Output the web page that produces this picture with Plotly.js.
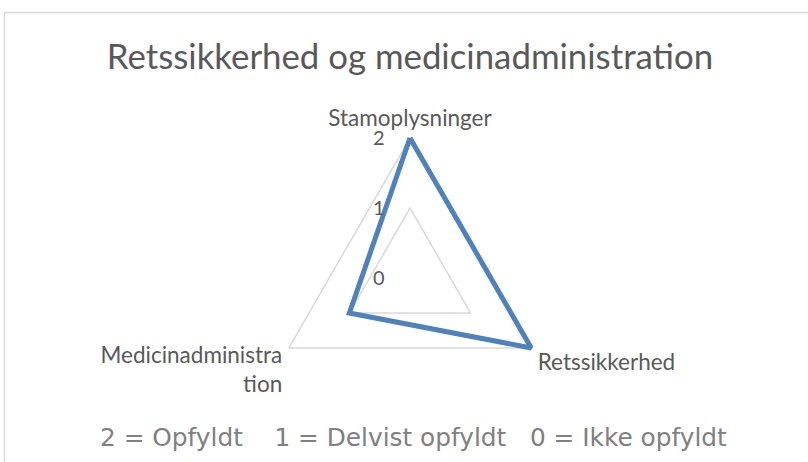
<!DOCTYPE html>
<html>
<head>
<meta charset="utf-8">
<script src="https://cdn.plot.ly/plotly-3.0.1.min.js"></script>
<style>html,body{margin:0;padding:0;background:#fff}#chart{width:808px;height:462px}</style>
</head>
<body>
<div id="chart"></div>
<script>
const categories = ["Stamoplysninger", "Retssikkerhed", "Medicinadministra<br>tion"];
const values = [2, 2, 1];
const tickValues = [0, 1, 2];
const tickLabels = ["0", "1", "2"];
const chartTitle = "Retssikkerhed og medicinadministration";
const footnote = "2 = Opfyldt\u00a0\u00a0\u00a0\u00a01 = Delvist opfyldt\u00a0\u00a0\u00a00 = Ikke opfyldt";

const theta = categories.concat([categories[0]]);
const r = values.concat([values[0]]);

const data = [{
  type: "scatterpolar",
  r: r,
  theta: theta,
  mode: "lines",
  cliponaxis: false,
  line: {color: "#4F81BD", width: 5},
  hoverinfo: "skip"
}];

// radial range a little beyond 2 so the thick outline is not clipped
const rMax = 2.1;
const cx = 410, cyFromBottom = 184, rPix = 140 * rMax / 2;

const layout = {
  width: 808, height: 462,
  margin: {l: 0, r: 0, t: 0, b: 0},
  paper_bgcolor: "#ffffff",
  showlegend: false,
  font: {family: "Lato, 'Open Sans', sans-serif", color: "#595959"},
  title: {
    text: chartTitle,
    font: {family: "Lato, sans-serif", size: 34.8, color: "#595959"},
    x: 410/808, xanchor: "center", xref: "paper",
    y: 1 - 57/462, yanchor: "middle", yref: "paper"
  },
  polar: {
    domain: {x: [(cx - rPix)/808, (cx + rPix)/808], y: [(cyFromBottom - rPix)/462, (cyFromBottom + rPix)/462]},
    gridshape: "linear",
    bgcolor: "rgba(0,0,0,0)",
    angularaxis: {
      direction: "clockwise",
      rotation: 90,
      showline: false,
      showgrid: false,
      ticks: "",
      tickfont: {family: "Lato, sans-serif", size: 22.5, color: "#595959"}
    },
    radialaxis: {
      range: [0, rMax],
      angle: 90,
      tickangle: 90,
      side: "counterclockwise",
      tickvals: tickValues,
      ticktext: tickLabels,
      showline: false,
      ticks: "outside",
      ticklen: 18,
      tickcolor: "rgba(0,0,0,0)",
      gridcolor: "#d9d9d9",
      gridwidth: 1.5,
      tickfont: {family: "Lato, sans-serif", size: 20, color: "#595959"}
    }
  },
  annotations: [{
    text: footnote,
    xref: "paper", yref: "paper",
    x: 413/808, y: 1 - 437/462,
    xanchor: "center", yanchor: "middle",
    showarrow: false,
    font: {family: "'DejaVu Sans', sans-serif", size: 24.8, color: "#808080"}
  }],
  shapes: [
    {type: "line", xref: "paper", yref: "paper", x0: 4.5/808, x1: 1, y0: 1 - 12.5/462, y1: 1 - 12.5/462, line: {color: "#d9d9d9", width: 1.5}},
    {type: "line", xref: "paper", yref: "paper", x0: 4.5/808, x1: 4.5/808, y0: 0, y1: 1 - 12.5/462, line: {color: "#d9d9d9", width: 1.5}}
  ]
};

Plotly.newPlot("chart", data, layout, {displayModeBar: false, staticPlot: true});
</script>
</body>
</html>
